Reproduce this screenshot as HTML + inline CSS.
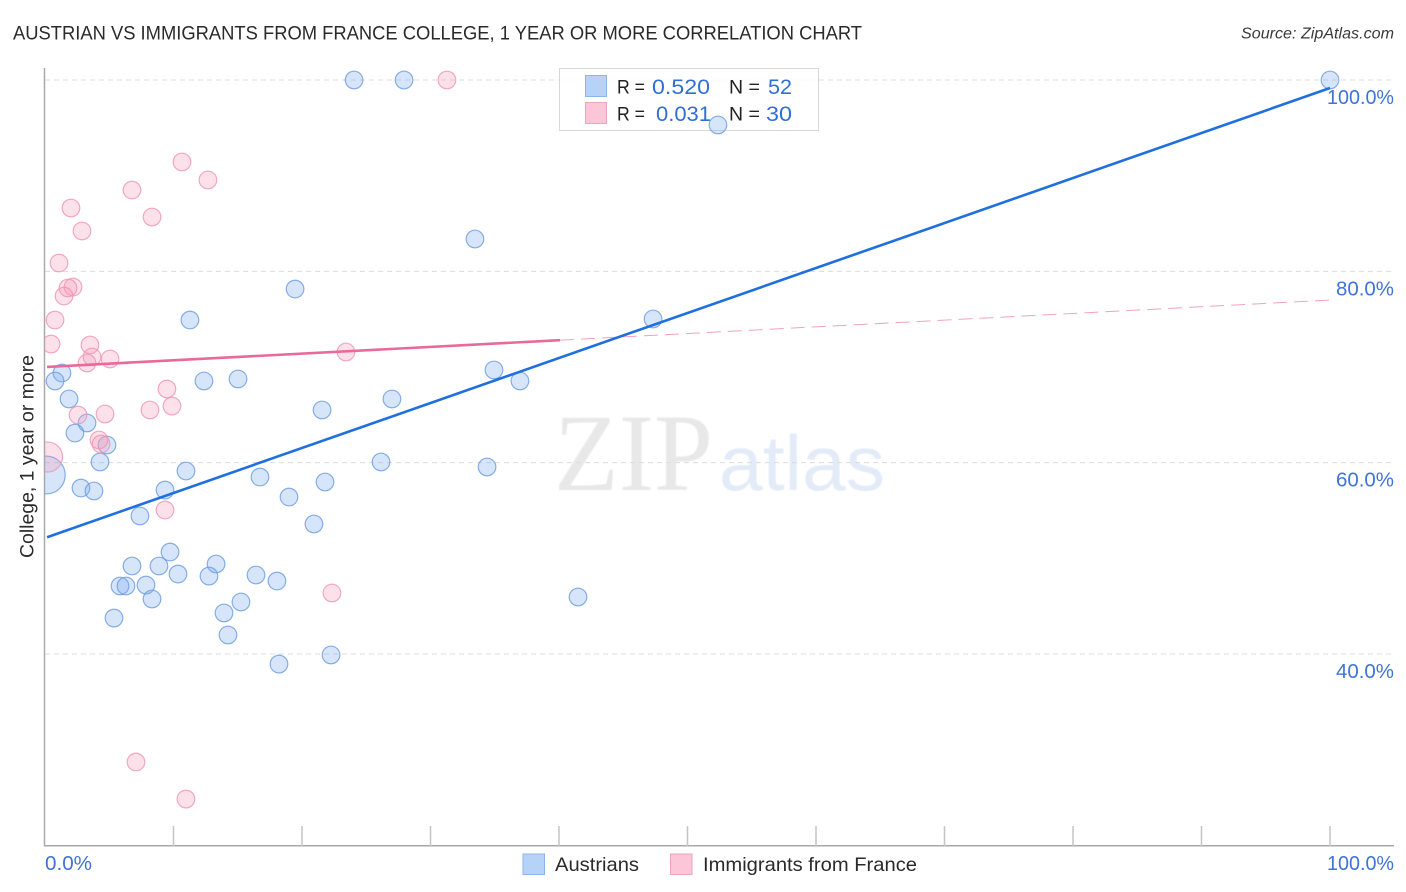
<!DOCTYPE html>
<html lang="en">
<head>
<meta charset="utf-8">
<title>Austrian vs Immigrants from France College, 1 Year or More Correlation Chart</title>
<style>
html,body{margin:0;padding:0;background:#fff;width:1406px;height:892px;overflow:hidden}
svg{display:block;font-family:"Liberation Sans",sans-serif}
</style>
</head>
<body>
<svg id="chart" width="1406" height="892" viewBox="0 0 1406 892">
  <defs>
    <clipPath id="plot-clip"><rect x="45" y="60" width="1350" height="786"/></clipPath>
    <filter id="soft" x="-5%" y="-5%" width="110%" height="110%"><feGaussianBlur stdDeviation="0.6"/></filter>
  </defs>
  <rect width="1406" height="892" fill="#fff"/>
  <text x="13" y="39.5" font-size="19" fill="#2a2a2a" textLength="849" lengthAdjust="spacingAndGlyphs">AUSTRIAN VS IMMIGRANTS FROM FRANCE COLLEGE, 1 YEAR OR MORE CORRELATION CHART</text>
  <text x="1241" y="38.5" font-size="15.5" font-style="italic" fill="#3a3a3a" textLength="153" lengthAdjust="spacingAndGlyphs">Source: ZipAtlas.com</text>

  <g filter="url(#soft)">
    <text x="554" y="490" font-family="'Liberation Serif',serif" font-size="110" fill="#e8e8e8" textLength="159" lengthAdjust="spacingAndGlyphs">ZIP</text>
    <text x="719" y="490" font-size="78" fill="#e3ebf8" textLength="166" lengthAdjust="spacingAndGlyphs">atlas</text>
  </g>

  <g id="grid"></g>
  <g id="axes"></g>

  <g>
    <rect x="559.5" y="68.5" width="259" height="62" fill="#fff" fill-opacity="0.85" stroke="#d8d8d8" stroke-width="1"/>
    <rect x="585.5" y="75.5" width="21" height="21" fill="#b7d2f7" stroke="#8fb4ea"/>
    <rect x="585.5" y="102.5" width="21" height="21" fill="#fcc6d8" stroke="#f0a3bc"/>
    <g font-size="19.5" fill="#222">
      <text x="617" y="93.5" textLength="28" lengthAdjust="spacingAndGlyphs">R =</text>
      <text x="617" y="120.5" textLength="28" lengthAdjust="spacingAndGlyphs">R =</text>
      <text x="729" y="93.5">N =</text>
      <text x="729" y="120.5">N =</text>
    </g>
    <g font-size="21.5" fill="#2f6fd6">
      <text x="652" y="94" textLength="58" lengthAdjust="spacingAndGlyphs">0.520</text>
      <text x="656" y="121" textLength="55" lengthAdjust="spacingAndGlyphs">0.031</text>
      <text x="768" y="94" textLength="24" lengthAdjust="spacingAndGlyphs">52</text>
      <text x="766" y="121" textLength="26" lengthAdjust="spacingAndGlyphs">30</text>
    </g>
  </g>

  <g clip-path="url(#plot-clip)">
    <g id="series-austrians"></g>
    <g id="series-france"></g>
  </g>
  <g id="trends"></g>
  <g id="ticklabels"></g>

  <text transform="translate(33.5,456.5) rotate(-90)" text-anchor="middle" font-size="19" fill="#2a2a2a" textLength="203" lengthAdjust="spacingAndGlyphs">College, 1 year or more</text>

  <g>
    <g>
      <rect x="523" y="854" width="21.5" height="20.5" fill="#b7d2f7" stroke="#8fb4ea"/>
      <text x="555" y="871" font-size="19.5" fill="#2a2a2a" textLength="84" lengthAdjust="spacingAndGlyphs">Austrians</text>
    </g>
    <g>
      <rect x="670.5" y="854" width="21.5" height="20.5" fill="#fcc6d8" stroke="#f0a3bc"/>
      <text x="703" y="871" font-size="19.5" fill="#2a2a2a" textLength="214" lengthAdjust="spacingAndGlyphs">Immigrants from France</text>
    </g>
  </g>
</svg>
<script>
var xTickValues = [0, 10, 20, 30, 40, 50, 60, 70, 80, 90, 100];
var yGridValues = [100, 80, 60, 40];
var yTickLabels = ["100.0%", "80.0%", "60.0%", "40.0%"];
var xEndLabels = ["0.0%", "100.0%"];

var austriansX = [24.05,27.94,100,52.37,33.46,19.46,47.32,11.28,1.32,0.78,12.37,15.02,34.94,36.96,1.87,27.00,21.56,3.27,2.33,4.82,4.28,26.15,34.40,10.97,16.73,21.79,2.80,3.81,9.34,18.99,7.39,20.93,9.73,6.77,8.87,13.31,10.35,12.76,16.42,18.05,5.84,6.30,7.86,8.33,15.25,41.48,13.93,5.37,14.24,18.21,22.26,0.1];
var austriansY = [100,100,100,95.30,83.38,78.15,75.02,74.91,69.37,68.54,68.54,68.75,69.69,68.54,66.66,66.66,65.51,64.15,63.10,61.85,60.07,60.07,59.55,59.13,58.50,57.98,57.35,57.04,57.14,56.41,54.43,53.59,50.66,49.20,49.20,49.41,48.36,48.15,48.26,47.63,47.11,47.11,47.21,45.75,45.44,45.96,44.29,43.76,41.99,38.95,39.90,58.71];
var austriansSize = [1,1,1,1,1,1,1,1,1,1,1,1,1,1,1,1,1,1,1,1,1,1,1,1,1,1,1,1,1,1,1,1,1,1,1,1,1,1,1,1,1,1,1,1,1,1,1,1,1,1,1,2.15];

var franceX = [31.28,10.66,12.68,6.77,2.02,8.33,2.88,1.09,2.18,1.79,1.48,0.78,0.47,3.50,3.66,3.27,5.06,23.42,9.49,8.17,9.88,2.57,4.67,4.20,4.36,0.2,9.34,22.33,7.08,10.97];
var franceY = [100,91.43,89.55,88.50,86.62,85.68,84.22,80.87,78.36,78.26,77.42,74.91,72.40,72.30,71.05,70.42,70.84,71.57,67.70,65.51,65.92,64.98,65.09,62.37,61.95,60.59,55.05,46.38,28.71,24.84];
var franceSize = [1,1,1,1,1,1,1,1,1,1,1,1,1,1,1,1,1,1,1,1,1,1,1,1,1,1.7,1,1,1,1];

var austriansTrend = [52.13, 99.16];
var franceTrend = [70.0, 77.0];
var franceSolidEnd = 40.08;

var NS = 'http://www.w3.org/2000/svg';
function xScale(v){ return 45 + v * 12.85; }
function yScale(v){ return 80 + (100 - v) * 9.567; }
function add(parent, tag, attrs){
  var el = document.createElementNS(NS, tag);
  for (var k in attrs) el.setAttribute(k, attrs[k]);
  parent.appendChild(el);
  return el;
}
var gGrid = document.getElementById('grid');
var gAxes = document.getElementById('axes');
var gLabels = document.getElementById('ticklabels');
var gA = document.getElementById('series-austrians');
var gF = document.getElementById('series-france');
var gT = document.getElementById('trends');

yGridValues.forEach(function(v, i){
  var l = add(gGrid, 'line', {x1:45, x2:1393, y1:yScale(v), y2:yScale(v), stroke:'#dcdcdc', 'stroke-width':1, 'stroke-dasharray':'5 4'});
  
  
  var t = add(gLabels, 'text', {x:1394, y:yScale(v) + 24, 'text-anchor':'end', 'font-size':20, fill:'#3f74d6', textLength: i === 0 ? 67 : 58, lengthAdjust:'spacingAndGlyphs'});
  t.textContent = yTickLabels[i];
  
  
});

var yAxis = add(gAxes, 'line', {x1:44.5, x2:44.5, y1:68, y2:846, stroke:'#a9a9a9', 'stroke-width':1.5});


var xAxis = add(gAxes, 'line', {x1:44, x2:1394, y1:845.7, y2:845.7, stroke:'#a9a9a9', 'stroke-width':1.5});


xTickValues.forEach(function(v){
  if (v === 0) return;
  var tk = add(gAxes, 'line', {x1:xScale(v), x2:xScale(v), y1:826, y2:846, stroke:'#c4c4c4', 'stroke-width':1.5});
  
  
});

var x0 = add(gLabels, 'text', {x:45, y:870, 'font-size':20, fill:'#3f74d6', textLength:47, lengthAdjust:'spacingAndGlyphs'});
x0.textContent = xEndLabels[0];


var x1 = add(gLabels, 'text', {x:1394, y:870, 'text-anchor':'end', 'font-size':20, fill:'#3f74d6', textLength:67, lengthAdjust:'spacingAndGlyphs'});
x1.textContent = xEndLabels[1];



austriansX.forEach(function(v, i){
  var c = add(gA, 'circle', {cx:xScale(v), cy:yScale(austriansY[i]), r:8.8 * austriansSize[i], fill:'#7aaaf0', 'fill-opacity':0.3, stroke:'#6a9be0', 'stroke-opacity':0.8, 'stroke-width':1.2});
  
  
});
franceX.forEach(function(v, i){
  var c = add(gF, 'circle', {cx:xScale(v), cy:yScale(franceY[i]), r:8.8 * franceSize[i], fill:'#f59ab8', 'fill-opacity':0.3, stroke:'#ee95b2', 'stroke-opacity':0.8, 'stroke-width':1.2});
  
  
});

function trendAt(tr, x){ return tr[0] + (tr[1] - tr[0]) * x / 100; }
var fStart = 0.16;
var fd = add(gT, 'line', {x1:xScale(franceSolidEnd), y1:yScale(trendAt(franceTrend, franceSolidEnd)), x2:xScale(100), y2:yScale(trendAt(franceTrend, 100)), stroke:'#ec6f9a', 'stroke-width':1, 'stroke-dasharray':'14 7', 'stroke-opacity':0.65});


var fs = add(gT, 'line', {x1:xScale(fStart), y1:yScale(trendAt(franceTrend, fStart)), x2:xScale(franceSolidEnd), y2:yScale(trendAt(franceTrend, franceSolidEnd)), stroke:'#e9699a', 'stroke-width':2.6});


var at = add(gT, 'line', {x1:xScale(fStart), y1:yScale(trendAt(austriansTrend, fStart)), x2:xScale(100), y2:yScale(trendAt(austriansTrend, 100)), stroke:'#1f6fdc', 'stroke-width':2.6});


</script>
</body>
</html>
